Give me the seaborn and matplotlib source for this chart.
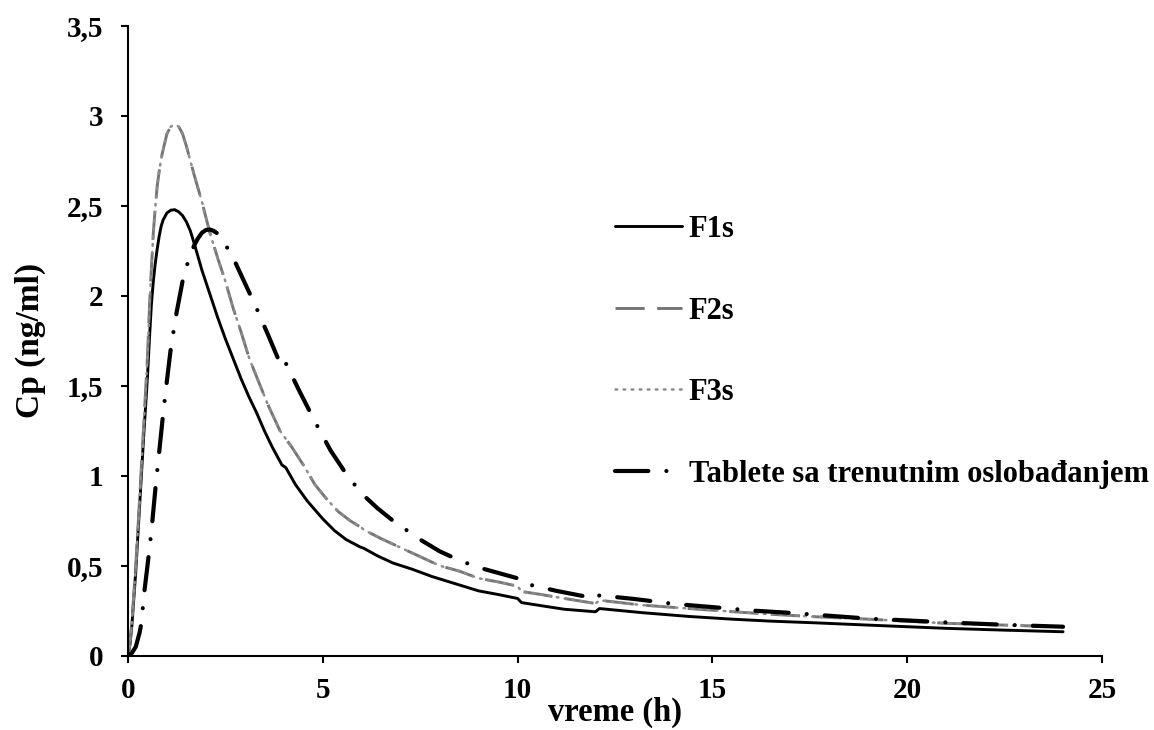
import matplotlib
matplotlib.use("Agg")
import matplotlib.pyplot as plt
import seaborn as sns
import numpy as np

# ---- data ----
t_f1 = [0, 0.05, 0.1, 0.2, 0.3, 0.4, 0.5, 0.55, 0.6, 0.65, 0.7, 0.75, 0.8, 0.85, 0.9, 1.0, 1.1, 1.2,
        1.3, 1.4, 1.5, 1.6, 1.7, 1.9, 2.1, 2.3, 2.5, 2.7, 2.9, 3.1, 3.3, 3.5, 3.7, 3.95, 4.05, 4.3,
        4.6, 5.0, 5.3, 5.6, 5.95, 6.05, 6.4, 6.8, 7.3, 7.8, 8.4, 9.0, 9.5, 10.0, 10.1, 10.6, 11.2,
        12.0, 12.1, 13.2, 14.4, 15.5, 16.5, 17.6, 19.0, 21.0, 22.5, 24.0]
c_f1 = [0, 0.06, 0.17, 0.47, 0.84, 1.21, 1.55, 1.76, 1.95, 2.08, 2.18, 2.26, 2.33, 2.385, 2.42, 2.46,
        2.475, 2.478, 2.466, 2.445, 2.41, 2.36, 2.29, 2.14, 2.01, 1.88, 1.76, 1.65, 1.54, 1.44, 1.35,
        1.25, 1.16, 1.06, 1.045, 0.95, 0.86, 0.76, 0.695, 0.645, 0.605, 0.597, 0.555, 0.515, 0.48,
        0.44, 0.40, 0.36, 0.34, 0.318, 0.295, 0.278, 0.258, 0.244, 0.262, 0.239, 0.218, 0.203,
        0.192, 0.183, 0.170, 0.152, 0.142, 0.133]

t_f2 = [0, 0.05, 0.1, 0.2, 0.3, 0.4, 0.5, 0.55, 0.6, 0.65, 0.7, 0.75, 0.8, 0.85, 0.9, 1.0, 1.1, 1.2,
        1.3, 1.4, 1.5, 1.6, 1.7, 1.9, 2.1, 2.3, 2.5, 2.7, 2.9, 3.1, 3.3, 3.6, 3.9, 4.2, 4.5, 4.8,
        5.1, 5.4, 5.7, 6.0, 6.05, 6.5, 7.0, 7.5, 8.0, 8.5, 9.0, 9.5, 10.0, 10.1, 10.6, 11.2, 12.0,
        12.1, 13.2, 14.4, 15.5, 16.5, 17.6, 19.0, 21.0, 22.5, 24.0]
c_f2 = [0, 0.07, 0.19, 0.50, 0.88, 1.27, 1.66, 1.93, 2.15, 2.35, 2.49, 2.61, 2.69, 2.76, 2.81, 2.90,
        2.94, 2.95, 2.94, 2.90, 2.83, 2.75, 2.67, 2.52, 2.35, 2.21, 2.08, 1.93, 1.80, 1.66, 1.55,
        1.39, 1.25, 1.16, 1.06, 0.95, 0.87, 0.80, 0.75, 0.71, 0.70, 0.65, 0.60, 0.55, 0.50, 0.47,
        0.43, 0.41, 0.386, 0.357, 0.34, 0.318, 0.29, 0.308, 0.281, 0.262, 0.245, 0.230, 0.217,
        0.203, 0.180, 0.170, 0.160]

t_f3 = list(t_f2)
c_f3 = [0, 0.07, 0.19, 0.50, 0.88, 1.27, 1.66, 1.93, 2.15, 2.35, 2.49, 2.61, 2.69, 2.76, 2.81, 2.90,
        2.94, 2.95, 2.94, 2.90, 2.83, 2.75, 2.67, 2.52, 2.35, 2.21, 2.08, 1.93, 1.80, 1.66, 1.55,
        1.39, 1.25, 1.16, 1.06, 0.95, 0.87, 0.80, 0.75, 0.71, 0.70, 0.65, 0.60, 0.55, 0.50, 0.47,
        0.43, 0.41, 0.386, 0.357, 0.34, 0.318, 0.29, 0.308, 0.281, 0.262, 0.245, 0.230, 0.217,
        0.203, 0.180, 0.170, 0.160]

t_tab = [0, 0.1, 0.2, 0.3, 0.35, 0.4, 0.5, 0.6, 0.7, 0.8, 0.9, 1.0, 1.1, 1.25, 1.4, 1.5, 1.6, 1.7,
         1.8, 1.9, 2.0, 2.1, 2.2, 2.3, 2.4, 2.7, 3.0, 3.3, 3.6, 3.95, 4.05, 4.4, 4.8, 5.2, 5.6, 6.0,
         6.4, 6.8, 7.5, 8.0, 8.5, 9.0, 9.5, 10.0, 10.1, 11.0, 12.0, 12.1, 13.0, 14.0, 15.0, 16.0,
         17.0, 18.0, 19.0, 20.0, 21.0, 22.0, 23.0, 24.0]
c_tab = [0, 0.015, 0.05, 0.13, 0.19, 0.32, 0.50, 0.69, 0.92, 1.13, 1.34, 1.53, 1.71, 1.91, 2.08,
         2.16, 2.23, 2.28, 2.32, 2.35, 2.365, 2.368, 2.36, 2.345, 2.32, 2.21, 2.07, 1.93, 1.78,
         1.60, 1.625, 1.47, 1.30, 1.14, 1.01, 0.90, 0.82, 0.75, 0.645, 0.58, 0.53, 0.49, 0.46, 0.43,
         0.405, 0.36, 0.318, 0.335, 0.315, 0.288, 0.27, 0.251, 0.238, 0.222, 0.206, 0.196, 0.185,
         0.176, 0.168, 0.161]

series_names = ["F1s", "F2s", "F3s", "Tablete sa trenutnim oslobađanjem"]
x_ticks = [0, 5, 10, 15, 20, 25]
y_ticks = [0, 0.5, 1, 1.5, 2, 2.5, 3, 3.5]
y_tick_labels = ["0", "0,5", "1", "1,5", "2", "2,5", "3", "3,5"]
x_label = "vreme (h)"
y_label = "Cp (ng/ml)"

# ---- styling ----
sns.set_theme(style="white")
plt.rcParams["font.family"] = ["Liberation Serif", "DejaVu Serif"]
plt.rcParams["font.weight"] = "bold"
plt.rcParams["lines.scale_dashes"] = False

fig = plt.figure(figsize=(11.54, 7.30), dpi=100)
ax = fig.add_axes([128 / 1154, 1 - 655.7 / 730, (1102 - 128) / 1154, (655.7 - 25.7) / 730])

styles = [
    dict(color="black", lw=2.1, dashes=None),
    dict(color="#757575", lw=2.1, dashes=(21, 9)),
    dict(color="#8c8c8c", lw=1.8, dashes=(1.2, 4.6)),
    dict(color="black", lw=3.0, dashes=(24, 13, 0.01, 13)),
]
data = [(t_f1, c_f1), (t_f2, c_f2), (t_f3, c_f3), (t_tab, c_tab)]

for (tx, cy), name, st in zip(data, series_names, styles):
    sns.lineplot(x=tx, y=cy, ax=ax, color=st["color"], linewidth=st["lw"], label=name,
                 sort=False, estimator=None)
    ln = ax.lines[-1]
    if st["dashes"] is not None:
        ln.set_dashes(st["dashes"])
        ln.set_dash_capstyle("round" if name.startswith("Tab") or name == "F3s" else "butt")
    ln.set_solid_capstyle("round")
    ln.set_solid_joinstyle("round")
    ln.set_dash_joinstyle("round")

ax.set_xlim(0, 25)
ax.set_ylim(0, 3.5)
ax.set_xticks(x_ticks)
ax.set_xticklabels([str(v) for v in x_ticks])
ax.set_yticks(y_ticks)
ax.set_yticklabels(y_tick_labels)

for s in ["top", "right"]:
    ax.spines[s].set_visible(False)
for s in ["left", "bottom"]:
    ax.spines[s].set_color("black")
    ax.spines[s].set_linewidth(1.5)

ax.tick_params(axis="both", which="major", direction="out", length=5, width=1.5,
               color="black", labelsize=21, labelcolor="black", bottom=True, left=True)
ax.tick_params(axis="y", pad=13)
ax.tick_params(axis="x", pad=10)
for lab in ax.get_xticklabels() + ax.get_yticklabels():
    lab.set_fontweight("bold")

ax.set_xlabel(x_label, fontsize=23.5, fontweight="bold", color="black", labelpad=-5)
ax.set_ylabel(y_label, fontsize=24, fontweight="bold", color="black", labelpad=15)

handles, labels = ax.get_legend_handles_labels()
leg = ax.legend(handles, labels, loc="upper left", bbox_to_anchor=(615 / 1154, 1 - 215 / 730),
                bbox_transform=fig.transFigure, frameon=False, fontsize=22, borderpad=0,
                borderaxespad=0, handlelength=2.19, handletextpad=0.22, labelspacing=1.72)
for txt in leg.get_texts():
    txt.set_fontweight("bold")
    txt.set_color("black")

fig.savefig("out.png", dpi=100)
